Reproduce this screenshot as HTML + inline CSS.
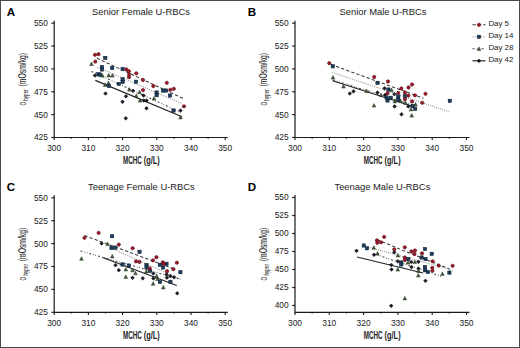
<!DOCTYPE html><html><head><meta charset="utf-8"><style>html,body{margin:0;padding:0;background:#fff}svg{display:block}text{font-family:"Liberation Sans", sans-serif}</style></head><body>
<svg width="520" height="348" viewBox="0 0 520 348">
<rect x="0" y="0" width="520" height="348" fill="#fff"/>
<rect x="0.5" y="0.5" width="519" height="347" fill="none" stroke="#4a4a4a" stroke-width="1"/>
<path d="M54.20 20.80V137.50H227.80" fill="none" stroke="#1a1a1a" stroke-width="1.2"/>
<path d="M51.40 137.45H54.2" stroke="#1a1a1a" stroke-width="1.2"/>
<text x="47.90" y="140.35" font-size="8.4" text-anchor="end" fill="#222">425</text>
<path d="M51.40 114.60H54.2" stroke="#1a1a1a" stroke-width="1.2"/>
<text x="47.90" y="117.50" font-size="8.4" text-anchor="end" fill="#222">450</text>
<path d="M51.40 91.75H54.2" stroke="#1a1a1a" stroke-width="1.2"/>
<text x="47.90" y="94.65" font-size="8.4" text-anchor="end" fill="#222">475</text>
<path d="M51.40 68.90H54.2" stroke="#1a1a1a" stroke-width="1.2"/>
<text x="47.90" y="71.80" font-size="8.4" text-anchor="end" fill="#222">500</text>
<path d="M51.40 46.05H54.2" stroke="#1a1a1a" stroke-width="1.2"/>
<text x="47.90" y="48.95" font-size="8.4" text-anchor="end" fill="#222">525</text>
<path d="M51.40 23.20H54.2" stroke="#1a1a1a" stroke-width="1.2"/>
<text x="47.90" y="26.10" font-size="8.4" text-anchor="end" fill="#222">550</text>
<path d="M54.20 137.50V140.10" stroke="#1a1a1a" stroke-width="1.1"/>
<text x="54.20" y="151.00" font-size="8.4" text-anchor="middle" fill="#222">300</text>
<path d="M71.30 137.50V138.70" stroke="#1a1a1a" stroke-width="1.1"/>
<path d="M88.40 137.50V140.10" stroke="#1a1a1a" stroke-width="1.1"/>
<text x="88.40" y="151.00" font-size="8.4" text-anchor="middle" fill="#222">310</text>
<path d="M105.50 137.50V138.70" stroke="#1a1a1a" stroke-width="1.1"/>
<path d="M122.60 137.50V140.10" stroke="#1a1a1a" stroke-width="1.1"/>
<text x="122.60" y="151.00" font-size="8.4" text-anchor="middle" fill="#222">320</text>
<path d="M139.70 137.50V138.70" stroke="#1a1a1a" stroke-width="1.1"/>
<path d="M156.80 137.50V140.10" stroke="#1a1a1a" stroke-width="1.1"/>
<text x="156.80" y="151.00" font-size="8.4" text-anchor="middle" fill="#222">330</text>
<path d="M173.90 137.50V138.70" stroke="#1a1a1a" stroke-width="1.1"/>
<path d="M191.00 137.50V140.10" stroke="#1a1a1a" stroke-width="1.1"/>
<text x="191.00" y="151.00" font-size="8.4" text-anchor="middle" fill="#222">340</text>
<path d="M208.10 137.50V138.70" stroke="#1a1a1a" stroke-width="1.1"/>
<path d="M225.20 137.50V140.10" stroke="#1a1a1a" stroke-width="1.1"/>
<text x="225.20" y="151.00" font-size="8.4" text-anchor="middle" fill="#222">350</text>
<text x="141.00" y="14.70" font-size="9.4" text-anchor="middle" fill="#222">Senior Female U-RBCs</text>
<text x="6.80" y="16.45" font-size="11.6" font-weight="bold" fill="#000">A</text>
<g transform="translate(122.90,163.70) scale(0.63,1)"><text x="0" y="0" font-size="10" fill="#222" font-weight="bold">MCHC</text></g>
<g transform="translate(143.80,163.70) scale(0.74,1)"><text x="0" y="0" font-size="10" fill="#222" font-weight="bold">(g/L)</text></g>
<g transform="translate(26.20,105.60) rotate(-90) scale(0.47,1)"><text x="0" y="0" font-size="9.8" fill="#111">O</text></g>
<g transform="translate(27.90,100.80) rotate(-90) scale(0.71,1)"><text x="0" y="0" font-size="6.5" fill="#111">hyper</text></g>
<g transform="translate(26.40,86.40) rotate(-90) scale(0.678,1)"><text x="0" y="0" font-size="10" fill="#111">(mOsm/kg)</text></g>
<path d="M295.00 20.80V137.50H469.50" fill="none" stroke="#1a1a1a" stroke-width="1.2"/>
<path d="M292.20 137.45H295.0" stroke="#1a1a1a" stroke-width="1.2"/>
<text x="288.70" y="140.35" font-size="8.4" text-anchor="end" fill="#222">425</text>
<path d="M292.20 114.60H295.0" stroke="#1a1a1a" stroke-width="1.2"/>
<text x="288.70" y="117.50" font-size="8.4" text-anchor="end" fill="#222">450</text>
<path d="M292.20 91.75H295.0" stroke="#1a1a1a" stroke-width="1.2"/>
<text x="288.70" y="94.65" font-size="8.4" text-anchor="end" fill="#222">475</text>
<path d="M292.20 68.90H295.0" stroke="#1a1a1a" stroke-width="1.2"/>
<text x="288.70" y="71.80" font-size="8.4" text-anchor="end" fill="#222">500</text>
<path d="M292.20 46.05H295.0" stroke="#1a1a1a" stroke-width="1.2"/>
<text x="288.70" y="48.95" font-size="8.4" text-anchor="end" fill="#222">525</text>
<path d="M292.20 23.20H295.0" stroke="#1a1a1a" stroke-width="1.2"/>
<text x="288.70" y="26.10" font-size="8.4" text-anchor="end" fill="#222">550</text>
<path d="M295.00 137.50V140.10" stroke="#1a1a1a" stroke-width="1.1"/>
<text x="295.00" y="151.00" font-size="8.4" text-anchor="middle" fill="#222">300</text>
<path d="M312.15 137.50V138.70" stroke="#1a1a1a" stroke-width="1.1"/>
<path d="M329.30 137.50V140.10" stroke="#1a1a1a" stroke-width="1.1"/>
<text x="329.30" y="151.00" font-size="8.4" text-anchor="middle" fill="#222">310</text>
<path d="M346.45 137.50V138.70" stroke="#1a1a1a" stroke-width="1.1"/>
<path d="M363.60 137.50V140.10" stroke="#1a1a1a" stroke-width="1.1"/>
<text x="363.60" y="151.00" font-size="8.4" text-anchor="middle" fill="#222">320</text>
<path d="M380.75 137.50V138.70" stroke="#1a1a1a" stroke-width="1.1"/>
<path d="M397.90 137.50V140.10" stroke="#1a1a1a" stroke-width="1.1"/>
<text x="397.90" y="151.00" font-size="8.4" text-anchor="middle" fill="#222">330</text>
<path d="M415.05 137.50V138.70" stroke="#1a1a1a" stroke-width="1.1"/>
<path d="M432.20 137.50V140.10" stroke="#1a1a1a" stroke-width="1.1"/>
<text x="432.20" y="151.00" font-size="8.4" text-anchor="middle" fill="#222">340</text>
<path d="M449.35 137.50V138.70" stroke="#1a1a1a" stroke-width="1.1"/>
<path d="M466.50 137.50V140.10" stroke="#1a1a1a" stroke-width="1.1"/>
<text x="466.50" y="151.00" font-size="8.4" text-anchor="middle" fill="#222">350</text>
<text x="383.00" y="14.70" font-size="9.4" text-anchor="middle" fill="#222">Senior Male U-RBCs</text>
<text x="247.80" y="16.45" font-size="11.6" font-weight="bold" fill="#000">B</text>
<g transform="translate(363.70,163.70) scale(0.63,1)"><text x="0" y="0" font-size="10" fill="#222" font-weight="bold">MCHC</text></g>
<g transform="translate(384.60,163.70) scale(0.74,1)"><text x="0" y="0" font-size="10" fill="#222" font-weight="bold">(g/L)</text></g>
<g transform="translate(267.00,105.60) rotate(-90) scale(0.47,1)"><text x="0" y="0" font-size="9.8" fill="#111">O</text></g>
<g transform="translate(268.70,100.80) rotate(-90) scale(0.71,1)"><text x="0" y="0" font-size="6.5" fill="#111">hyper</text></g>
<g transform="translate(267.20,86.40) rotate(-90) scale(0.678,1)"><text x="0" y="0" font-size="10" fill="#111">(mOsm/kg)</text></g>
<path d="M54.20 195.30V312.30H227.80" fill="none" stroke="#1a1a1a" stroke-width="1.2"/>
<path d="M51.40 312.30H54.2" stroke="#1a1a1a" stroke-width="1.2"/>
<text x="47.90" y="315.20" font-size="8.4" text-anchor="end" fill="#222">425</text>
<path d="M51.40 289.40H54.2" stroke="#1a1a1a" stroke-width="1.2"/>
<text x="47.90" y="292.30" font-size="8.4" text-anchor="end" fill="#222">450</text>
<path d="M51.40 266.50H54.2" stroke="#1a1a1a" stroke-width="1.2"/>
<text x="47.90" y="269.40" font-size="8.4" text-anchor="end" fill="#222">475</text>
<path d="M51.40 243.60H54.2" stroke="#1a1a1a" stroke-width="1.2"/>
<text x="47.90" y="246.50" font-size="8.4" text-anchor="end" fill="#222">500</text>
<path d="M51.40 220.70H54.2" stroke="#1a1a1a" stroke-width="1.2"/>
<text x="47.90" y="223.60" font-size="8.4" text-anchor="end" fill="#222">525</text>
<path d="M51.40 197.80H54.2" stroke="#1a1a1a" stroke-width="1.2"/>
<text x="47.90" y="200.70" font-size="8.4" text-anchor="end" fill="#222">550</text>
<path d="M54.20 312.30V314.90" stroke="#1a1a1a" stroke-width="1.1"/>
<text x="54.20" y="326.00" font-size="8.4" text-anchor="middle" fill="#222">300</text>
<path d="M71.30 312.30V313.50" stroke="#1a1a1a" stroke-width="1.1"/>
<path d="M88.40 312.30V314.90" stroke="#1a1a1a" stroke-width="1.1"/>
<text x="88.40" y="326.00" font-size="8.4" text-anchor="middle" fill="#222">310</text>
<path d="M105.50 312.30V313.50" stroke="#1a1a1a" stroke-width="1.1"/>
<path d="M122.60 312.30V314.90" stroke="#1a1a1a" stroke-width="1.1"/>
<text x="122.60" y="326.00" font-size="8.4" text-anchor="middle" fill="#222">320</text>
<path d="M139.70 312.30V313.50" stroke="#1a1a1a" stroke-width="1.1"/>
<path d="M156.80 312.30V314.90" stroke="#1a1a1a" stroke-width="1.1"/>
<text x="156.80" y="326.00" font-size="8.4" text-anchor="middle" fill="#222">330</text>
<path d="M173.90 312.30V313.50" stroke="#1a1a1a" stroke-width="1.1"/>
<path d="M191.00 312.30V314.90" stroke="#1a1a1a" stroke-width="1.1"/>
<text x="191.00" y="326.00" font-size="8.4" text-anchor="middle" fill="#222">340</text>
<path d="M208.10 312.30V313.50" stroke="#1a1a1a" stroke-width="1.1"/>
<path d="M225.20 312.30V314.90" stroke="#1a1a1a" stroke-width="1.1"/>
<text x="225.20" y="326.00" font-size="8.4" text-anchor="middle" fill="#222">350</text>
<text x="141.40" y="189.90" font-size="9.4" text-anchor="middle" fill="#222">Teenage Female U-RBCs</text>
<text x="6.80" y="190.85" font-size="11.6" font-weight="bold" fill="#000">C</text>
<g transform="translate(122.90,338.50) scale(0.63,1)"><text x="0" y="0" font-size="10" fill="#222" font-weight="bold">MCHC</text></g>
<g transform="translate(143.80,338.50) scale(0.74,1)"><text x="0" y="0" font-size="10" fill="#222" font-weight="bold">(g/L)</text></g>
<g transform="translate(26.20,280.40) rotate(-90) scale(0.47,1)"><text x="0" y="0" font-size="9.8" fill="#111">O</text></g>
<g transform="translate(27.90,275.60) rotate(-90) scale(0.71,1)"><text x="0" y="0" font-size="6.5" fill="#111">hyper</text></g>
<g transform="translate(26.40,261.20) rotate(-90) scale(0.678,1)"><text x="0" y="0" font-size="10" fill="#111">(mOsm/kg)</text></g>
<path d="M295.00 195.00V312.30H469.50" fill="none" stroke="#1a1a1a" stroke-width="1.2"/>
<path d="M292.20 305.50H295.0" stroke="#1a1a1a" stroke-width="1.2"/>
<text x="288.70" y="308.40" font-size="8.4" text-anchor="end" fill="#222">400</text>
<path d="M292.20 287.50H295.0" stroke="#1a1a1a" stroke-width="1.2"/>
<text x="288.70" y="290.40" font-size="8.4" text-anchor="end" fill="#222">425</text>
<path d="M292.20 269.50H295.0" stroke="#1a1a1a" stroke-width="1.2"/>
<text x="288.70" y="272.40" font-size="8.4" text-anchor="end" fill="#222">450</text>
<path d="M292.20 251.50H295.0" stroke="#1a1a1a" stroke-width="1.2"/>
<text x="288.70" y="254.40" font-size="8.4" text-anchor="end" fill="#222">475</text>
<path d="M292.20 233.50H295.0" stroke="#1a1a1a" stroke-width="1.2"/>
<text x="288.70" y="236.40" font-size="8.4" text-anchor="end" fill="#222">500</text>
<path d="M292.20 215.50H295.0" stroke="#1a1a1a" stroke-width="1.2"/>
<text x="288.70" y="218.40" font-size="8.4" text-anchor="end" fill="#222">525</text>
<path d="M292.20 197.50H295.0" stroke="#1a1a1a" stroke-width="1.2"/>
<text x="288.70" y="200.40" font-size="8.4" text-anchor="end" fill="#222">550</text>
<path d="M295.00 312.30V314.90" stroke="#1a1a1a" stroke-width="1.1"/>
<text x="295.00" y="326.00" font-size="8.4" text-anchor="middle" fill="#222">300</text>
<path d="M312.15 312.30V313.50" stroke="#1a1a1a" stroke-width="1.1"/>
<path d="M329.30 312.30V314.90" stroke="#1a1a1a" stroke-width="1.1"/>
<text x="329.30" y="326.00" font-size="8.4" text-anchor="middle" fill="#222">310</text>
<path d="M346.45 312.30V313.50" stroke="#1a1a1a" stroke-width="1.1"/>
<path d="M363.60 312.30V314.90" stroke="#1a1a1a" stroke-width="1.1"/>
<text x="363.60" y="326.00" font-size="8.4" text-anchor="middle" fill="#222">320</text>
<path d="M380.75 312.30V313.50" stroke="#1a1a1a" stroke-width="1.1"/>
<path d="M397.90 312.30V314.90" stroke="#1a1a1a" stroke-width="1.1"/>
<text x="397.90" y="326.00" font-size="8.4" text-anchor="middle" fill="#222">330</text>
<path d="M415.05 312.30V313.50" stroke="#1a1a1a" stroke-width="1.1"/>
<path d="M432.20 312.30V314.90" stroke="#1a1a1a" stroke-width="1.1"/>
<text x="432.20" y="326.00" font-size="8.4" text-anchor="middle" fill="#222">340</text>
<path d="M449.35 312.30V313.50" stroke="#1a1a1a" stroke-width="1.1"/>
<path d="M466.50 312.30V314.90" stroke="#1a1a1a" stroke-width="1.1"/>
<text x="466.50" y="326.00" font-size="8.4" text-anchor="middle" fill="#222">350</text>
<text x="382.40" y="189.90" font-size="9.4" text-anchor="middle" fill="#222">Teenage Male U-RBCs</text>
<text x="247.80" y="190.85" font-size="11.6" font-weight="bold" fill="#000">D</text>
<g transform="translate(363.70,338.50) scale(0.63,1)"><text x="0" y="0" font-size="10" fill="#222" font-weight="bold">MCHC</text></g>
<g transform="translate(384.60,338.50) scale(0.74,1)"><text x="0" y="0" font-size="10" fill="#222" font-weight="bold">(g/L)</text></g>
<g transform="translate(267.00,280.40) rotate(-90) scale(0.47,1)"><text x="0" y="0" font-size="9.8" fill="#111">O</text></g>
<g transform="translate(268.70,275.60) rotate(-90) scale(0.71,1)"><text x="0" y="0" font-size="6.5" fill="#111">hyper</text></g>
<g transform="translate(267.20,261.20) rotate(-90) scale(0.678,1)"><text x="0" y="0" font-size="10" fill="#111">(mOsm/kg)</text></g>
<text x="488.4" y="25.90" font-size="7.9" fill="#222">Day 5</text>
<text x="488.4" y="37.90" font-size="7.9" fill="#222">Day 14</text>
<text x="488.4" y="49.90" font-size="7.9" fill="#222">Day 28</text>
<text x="488.4" y="61.90" font-size="7.9" fill="#222">Day 42</text>
<path d="M96.80 58.10L183.10 98.40" stroke="#3a3a3a" stroke-width="1.05" stroke-dasharray="3.3 2.1" fill="none"/>
<path d="M97.00 67.00L182.00 103.60" stroke="#7c7c7c" stroke-width="1.0" stroke-dasharray="0.9 1.2" fill="none"/>
<path d="M91.50 71.40L181.00 112.50" stroke="#444" stroke-width="1.05" stroke-dasharray="2 2 0.8 1.5 0.8 2" fill="none"/>
<path d="M95.30 80.40L182.00 116.70" stroke="#222" stroke-width="1.15" fill="none"/>
<path d="M94.90 73.65L96.75 75.50L94.90 77.35L93.05 75.50Z" fill="#1a1726" stroke="#0a0910" stroke-width="0.5"/>
<path d="M105.50 91.65L107.35 93.50L105.50 95.35L103.65 93.50Z" fill="#1a1726" stroke="#0a0910" stroke-width="0.5"/>
<path d="M126.00 94.45L127.85 96.30L126.00 98.15L124.15 96.30Z" fill="#1a1726" stroke="#0a0910" stroke-width="0.5"/>
<path d="M122.50 99.95L124.35 101.80L122.50 103.65L120.65 101.80Z" fill="#1a1726" stroke="#0a0910" stroke-width="0.5"/>
<path d="M125.80 116.45L127.65 118.30L125.80 120.15L123.95 118.30Z" fill="#1a1726" stroke="#0a0910" stroke-width="0.5"/>
<path d="M133.00 88.95L134.85 90.80L133.00 92.65L131.15 90.80Z" fill="#1a1726" stroke="#0a0910" stroke-width="0.5"/>
<path d="M143.50 93.65L145.35 95.50L143.50 97.35L141.65 95.50Z" fill="#1a1726" stroke="#0a0910" stroke-width="0.5"/>
<path d="M143.80 98.65L145.65 100.50L143.80 102.35L141.95 100.50Z" fill="#1a1726" stroke="#0a0910" stroke-width="0.5"/>
<path d="M146.60 98.65L148.45 100.50L146.60 102.35L144.75 100.50Z" fill="#1a1726" stroke="#0a0910" stroke-width="0.5"/>
<path d="M146.50 106.45L148.35 108.30L146.50 110.15L144.65 108.30Z" fill="#1a1726" stroke="#0a0910" stroke-width="0.5"/>
<path d="M180.50 108.65L182.35 110.50L180.50 112.35L178.65 110.50Z" fill="#1a1726" stroke="#0a0910" stroke-width="0.5"/>
<path d="M91.50 62.10L93.31 65.61L89.69 65.61Z" fill="#46603f" stroke="#22331f" stroke-width="0.5"/>
<path d="M102.30 73.60L104.11 77.11L100.49 77.11Z" fill="#46603f" stroke="#22331f" stroke-width="0.5"/>
<path d="M108.70 73.40L110.51 76.91L106.89 76.91Z" fill="#46603f" stroke="#22331f" stroke-width="0.5"/>
<path d="M112.40 73.60L114.21 77.11L110.59 77.11Z" fill="#46603f" stroke="#22331f" stroke-width="0.5"/>
<path d="M105.20 82.90L107.01 86.41L103.39 86.41Z" fill="#46603f" stroke="#22331f" stroke-width="0.5"/>
<path d="M108.50 81.10L110.31 84.61L106.69 84.61Z" fill="#46603f" stroke="#22331f" stroke-width="0.5"/>
<path d="M129.30 87.60L131.11 91.11L127.50 91.11Z" fill="#46603f" stroke="#22331f" stroke-width="0.5"/>
<path d="M139.50 90.30L141.31 93.81L137.69 93.81Z" fill="#46603f" stroke="#22331f" stroke-width="0.5"/>
<path d="M136.30 93.90L138.11 97.41L134.50 97.41Z" fill="#46603f" stroke="#22331f" stroke-width="0.5"/>
<path d="M140.00 98.60L141.81 102.11L138.19 102.11Z" fill="#46603f" stroke="#22331f" stroke-width="0.5"/>
<path d="M154.00 96.60L155.81 100.11L152.19 100.11Z" fill="#46603f" stroke="#22331f" stroke-width="0.5"/>
<path d="M180.50 115.40L182.31 118.91L178.69 118.91Z" fill="#46603f" stroke="#22331f" stroke-width="0.5"/>
<rect x="103.65" y="56.25" width="3.30" height="3.30" fill="#1c3d5c" stroke="#0b1a2c" stroke-width="0.5"/>
<rect x="100.35" y="65.35" width="3.30" height="3.30" fill="#1c3d5c" stroke="#0b1a2c" stroke-width="0.5"/>
<rect x="100.35" y="67.85" width="3.30" height="3.30" fill="#1c3d5c" stroke="#0b1a2c" stroke-width="0.5"/>
<rect x="110.55" y="66.35" width="3.30" height="3.30" fill="#1c3d5c" stroke="#0b1a2c" stroke-width="0.5"/>
<rect x="120.95" y="67.35" width="3.30" height="3.30" fill="#1c3d5c" stroke="#0b1a2c" stroke-width="0.5"/>
<rect x="96.65" y="72.65" width="3.30" height="3.30" fill="#1c3d5c" stroke="#0b1a2c" stroke-width="0.5"/>
<rect x="98.25" y="72.95" width="3.30" height="3.30" fill="#1c3d5c" stroke="#0b1a2c" stroke-width="0.5"/>
<rect x="120.95" y="77.65" width="3.30" height="3.30" fill="#1c3d5c" stroke="#0b1a2c" stroke-width="0.5"/>
<rect x="120.95" y="80.35" width="3.30" height="3.30" fill="#1c3d5c" stroke="#0b1a2c" stroke-width="0.5"/>
<rect x="117.05" y="82.25" width="3.30" height="3.30" fill="#1c3d5c" stroke="#0b1a2c" stroke-width="0.5"/>
<rect x="107.35" y="84.35" width="3.30" height="3.30" fill="#1c3d5c" stroke="#0b1a2c" stroke-width="0.5"/>
<rect x="134.35" y="80.05" width="3.30" height="3.30" fill="#1c3d5c" stroke="#0b1a2c" stroke-width="0.5"/>
<rect x="154.95" y="90.85" width="3.30" height="3.30" fill="#1c3d5c" stroke="#0b1a2c" stroke-width="0.5"/>
<rect x="154.95" y="93.55" width="3.30" height="3.30" fill="#1c3d5c" stroke="#0b1a2c" stroke-width="0.5"/>
<rect x="161.35" y="88.95" width="3.30" height="3.30" fill="#1c3d5c" stroke="#0b1a2c" stroke-width="0.5"/>
<rect x="164.35" y="88.85" width="3.30" height="3.30" fill="#1c3d5c" stroke="#0b1a2c" stroke-width="0.5"/>
<rect x="168.35" y="93.85" width="3.30" height="3.30" fill="#1c3d5c" stroke="#0b1a2c" stroke-width="0.5"/>
<rect x="171.85" y="108.85" width="3.30" height="3.30" fill="#1c3d5c" stroke="#0b1a2c" stroke-width="0.5"/>
<circle cx="95.00" cy="54.80" r="1.65" fill="#a3192b" stroke="#520912" stroke-width="0.6"/>
<circle cx="98.50" cy="54.20" r="1.65" fill="#a3192b" stroke="#520912" stroke-width="0.6"/>
<circle cx="95.30" cy="61.60" r="1.65" fill="#a3192b" stroke="#520912" stroke-width="0.6"/>
<circle cx="126.30" cy="69.40" r="1.65" fill="#a3192b" stroke="#520912" stroke-width="0.6"/>
<circle cx="128.90" cy="71.20" r="1.65" fill="#a3192b" stroke="#520912" stroke-width="0.6"/>
<circle cx="129.10" cy="74.50" r="1.65" fill="#a3192b" stroke="#520912" stroke-width="0.6"/>
<circle cx="129.00" cy="77.20" r="1.65" fill="#a3192b" stroke="#520912" stroke-width="0.6"/>
<circle cx="136.30" cy="73.30" r="1.65" fill="#a3192b" stroke="#520912" stroke-width="0.6"/>
<circle cx="143.00" cy="80.00" r="1.65" fill="#a3192b" stroke="#520912" stroke-width="0.6"/>
<circle cx="143.00" cy="90.10" r="1.65" fill="#a3192b" stroke="#520912" stroke-width="0.6"/>
<circle cx="153.30" cy="86.00" r="1.65" fill="#a3192b" stroke="#520912" stroke-width="0.6"/>
<circle cx="166.80" cy="82.80" r="1.65" fill="#a3192b" stroke="#520912" stroke-width="0.6"/>
<circle cx="170.30" cy="89.80" r="1.65" fill="#a3192b" stroke="#520912" stroke-width="0.6"/>
<circle cx="173.80" cy="88.80" r="1.65" fill="#a3192b" stroke="#520912" stroke-width="0.6"/>
<circle cx="184.00" cy="106.30" r="1.65" fill="#a3192b" stroke="#520912" stroke-width="0.6"/>
<path d="M331.00 64.50L423.50 98.20" stroke="#3a3a3a" stroke-width="1.05" stroke-dasharray="3.3 2.1" fill="none"/>
<path d="M332.50 72.50L448.50 111.60" stroke="#7c7c7c" stroke-width="1.0" stroke-dasharray="0.9 1.2" fill="none"/>
<path d="M333.00 80.00L415.50 105.80" stroke="#444" stroke-width="1.05" stroke-dasharray="2 2 0.8 1.5 0.8 2" fill="none"/>
<path d="M332.50 80.70L413.00 106.50" stroke="#222" stroke-width="1.15" fill="none"/>
<path d="M349.80 91.65L351.65 93.50L349.80 95.35L347.95 93.50Z" fill="#1a1726" stroke="#0a0910" stroke-width="0.5"/>
<path d="M353.50 89.45L355.35 91.30L353.50 93.15L351.65 91.30Z" fill="#1a1726" stroke="#0a0910" stroke-width="0.5"/>
<path d="M377.50 90.65L379.35 92.50L377.50 94.35L375.65 92.50Z" fill="#1a1726" stroke="#0a0910" stroke-width="0.5"/>
<path d="M384.50 86.45L386.35 88.30L384.50 90.15L382.65 88.30Z" fill="#1a1726" stroke="#0a0910" stroke-width="0.5"/>
<path d="M385.00 93.15L386.85 95.00L385.00 96.85L383.15 95.00Z" fill="#1a1726" stroke="#0a0910" stroke-width="0.5"/>
<path d="M394.40 92.35L396.25 94.20L394.40 96.05L392.55 94.20Z" fill="#1a1726" stroke="#0a0910" stroke-width="0.5"/>
<path d="M394.60 104.55L396.45 106.40L394.60 108.25L392.75 106.40Z" fill="#1a1726" stroke="#0a0910" stroke-width="0.5"/>
<path d="M408.30 104.55L410.15 106.40L408.30 108.25L406.45 106.40Z" fill="#1a1726" stroke="#0a0910" stroke-width="0.5"/>
<path d="M401.50 112.45L403.35 114.30L401.50 116.15L399.65 114.30Z" fill="#1a1726" stroke="#0a0910" stroke-width="0.5"/>
<path d="M333.00 75.60L334.81 79.11L331.19 79.11Z" fill="#46603f" stroke="#22331f" stroke-width="0.5"/>
<path d="M343.50 84.50L345.31 88.02L341.69 88.02Z" fill="#46603f" stroke="#22331f" stroke-width="0.5"/>
<path d="M366.50 89.10L368.31 92.61L364.69 92.61Z" fill="#46603f" stroke="#22331f" stroke-width="0.5"/>
<path d="M374.00 103.60L375.81 107.11L372.19 107.11Z" fill="#46603f" stroke="#22331f" stroke-width="0.5"/>
<path d="M381.00 93.10L382.81 96.61L379.19 96.61Z" fill="#46603f" stroke="#22331f" stroke-width="0.5"/>
<path d="M394.80 99.40L396.61 102.91L393.00 102.91Z" fill="#46603f" stroke="#22331f" stroke-width="0.5"/>
<path d="M400.50 99.10L402.31 102.61L398.69 102.61Z" fill="#46603f" stroke="#22331f" stroke-width="0.5"/>
<path d="M405.40 100.90L407.20 104.41L403.59 104.41Z" fill="#46603f" stroke="#22331f" stroke-width="0.5"/>
<path d="M415.50 102.50L417.31 106.02L413.69 106.02Z" fill="#46603f" stroke="#22331f" stroke-width="0.5"/>
<path d="M411.00 107.40L412.81 110.91L409.19 110.91Z" fill="#46603f" stroke="#22331f" stroke-width="0.5"/>
<path d="M411.70 113.60L413.50 117.11L409.89 117.11Z" fill="#46603f" stroke="#22331f" stroke-width="0.5"/>
<path d="M391.50 88.10L393.31 91.61L389.69 91.61Z" fill="#46603f" stroke="#22331f" stroke-width="0.5"/>
<rect x="331.15" y="64.65" width="3.30" height="3.30" fill="#1c3d5c" stroke="#0b1a2c" stroke-width="0.5"/>
<rect x="375.85" y="81.35" width="3.30" height="3.30" fill="#1c3d5c" stroke="#0b1a2c" stroke-width="0.5"/>
<rect x="386.75" y="87.85" width="3.30" height="3.30" fill="#1c3d5c" stroke="#0b1a2c" stroke-width="0.5"/>
<rect x="384.95" y="95.85" width="3.30" height="3.30" fill="#1c3d5c" stroke="#0b1a2c" stroke-width="0.5"/>
<rect x="389.15" y="96.15" width="3.30" height="3.30" fill="#1c3d5c" stroke="#0b1a2c" stroke-width="0.5"/>
<rect x="385.85" y="98.85" width="3.30" height="3.30" fill="#1c3d5c" stroke="#0b1a2c" stroke-width="0.5"/>
<rect x="396.65" y="94.85" width="3.30" height="3.30" fill="#1c3d5c" stroke="#0b1a2c" stroke-width="0.5"/>
<rect x="396.65" y="97.85" width="3.30" height="3.30" fill="#1c3d5c" stroke="#0b1a2c" stroke-width="0.5"/>
<rect x="403.35" y="94.35" width="3.30" height="3.30" fill="#1c3d5c" stroke="#0b1a2c" stroke-width="0.5"/>
<rect x="410.95" y="104.55" width="3.30" height="3.30" fill="#1c3d5c" stroke="#0b1a2c" stroke-width="0.5"/>
<rect x="413.55" y="107.15" width="3.30" height="3.30" fill="#1c3d5c" stroke="#0b1a2c" stroke-width="0.5"/>
<rect x="448.15" y="99.15" width="3.30" height="3.30" fill="#1c3d5c" stroke="#0b1a2c" stroke-width="0.5"/>
<circle cx="329.30" cy="63.20" r="1.65" fill="#a3192b" stroke="#520912" stroke-width="0.6"/>
<circle cx="374.20" cy="77.00" r="1.65" fill="#a3192b" stroke="#520912" stroke-width="0.6"/>
<circle cx="388.00" cy="81.50" r="1.65" fill="#a3192b" stroke="#520912" stroke-width="0.6"/>
<circle cx="412.00" cy="84.50" r="1.65" fill="#a3192b" stroke="#520912" stroke-width="0.6"/>
<circle cx="401.30" cy="88.50" r="1.65" fill="#a3192b" stroke="#520912" stroke-width="0.6"/>
<circle cx="408.50" cy="87.50" r="1.65" fill="#a3192b" stroke="#520912" stroke-width="0.6"/>
<circle cx="387.50" cy="93.30" r="1.65" fill="#a3192b" stroke="#520912" stroke-width="0.6"/>
<circle cx="398.30" cy="92.80" r="1.65" fill="#a3192b" stroke="#520912" stroke-width="0.6"/>
<circle cx="405.00" cy="92.50" r="1.65" fill="#a3192b" stroke="#520912" stroke-width="0.6"/>
<circle cx="408.40" cy="95.60" r="1.65" fill="#a3192b" stroke="#520912" stroke-width="0.6"/>
<circle cx="415.00" cy="95.30" r="1.65" fill="#a3192b" stroke="#520912" stroke-width="0.6"/>
<circle cx="405.00" cy="99.20" r="1.65" fill="#a3192b" stroke="#520912" stroke-width="0.6"/>
<circle cx="412.00" cy="101.50" r="1.65" fill="#a3192b" stroke="#520912" stroke-width="0.6"/>
<circle cx="422.20" cy="102.80" r="1.65" fill="#a3192b" stroke="#520912" stroke-width="0.6"/>
<circle cx="425.50" cy="93.80" r="1.65" fill="#a3192b" stroke="#520912" stroke-width="0.6"/>
<path d="M84.50 235.50L173.00 268.50" stroke="#3a3a3a" stroke-width="1.05" stroke-dasharray="3.3 2.1" fill="none"/>
<path d="M111.50 248.20L181.00 279.50" stroke="#7c7c7c" stroke-width="1.0" stroke-dasharray="0.9 1.2" fill="none"/>
<path d="M80.50 251.00L180.50 279.30" stroke="#444" stroke-width="1.05" stroke-dasharray="2 2 0.8 1.5 0.8 2" fill="none"/>
<path d="M102.50 257.50L176.80 285.50" stroke="#222" stroke-width="1.15" fill="none"/>
<path d="M101.60 241.65L103.45 243.50L101.60 245.35L99.75 243.50Z" fill="#1a1726" stroke="#0a0910" stroke-width="0.5"/>
<path d="M115.50 263.35L117.35 265.20L115.50 267.05L113.65 265.20Z" fill="#1a1726" stroke="#0a0910" stroke-width="0.5"/>
<path d="M118.80 268.35L120.65 270.20L118.80 272.05L116.95 270.20Z" fill="#1a1726" stroke="#0a0910" stroke-width="0.5"/>
<path d="M132.50 275.95L134.35 277.80L132.50 279.65L130.65 277.80Z" fill="#1a1726" stroke="#0a0910" stroke-width="0.5"/>
<path d="M142.80 276.45L144.65 278.30L142.80 280.15L140.95 278.30Z" fill="#1a1726" stroke="#0a0910" stroke-width="0.5"/>
<path d="M153.30 271.65L155.15 273.50L153.30 275.35L151.45 273.50Z" fill="#1a1726" stroke="#0a0910" stroke-width="0.5"/>
<path d="M153.40 276.65L155.25 278.50L153.40 280.35L151.55 278.50Z" fill="#1a1726" stroke="#0a0910" stroke-width="0.5"/>
<path d="M166.60 272.65L168.45 274.50L166.60 276.35L164.75 274.50Z" fill="#1a1726" stroke="#0a0910" stroke-width="0.5"/>
<path d="M166.90 275.85L168.75 277.70L166.90 279.55L165.05 277.70Z" fill="#1a1726" stroke="#0a0910" stroke-width="0.5"/>
<path d="M170.50 274.35L172.35 276.20L170.50 278.05L168.65 276.20Z" fill="#1a1726" stroke="#0a0910" stroke-width="0.5"/>
<path d="M174.10 275.45L175.95 277.30L174.10 279.15L172.25 277.30Z" fill="#1a1726" stroke="#0a0910" stroke-width="0.5"/>
<path d="M177.20 291.45L179.05 293.30L177.20 295.15L175.35 293.30Z" fill="#1a1726" stroke="#0a0910" stroke-width="0.5"/>
<path d="M81.50 256.70L83.31 260.22L79.69 260.22Z" fill="#46603f" stroke="#22331f" stroke-width="0.5"/>
<path d="M107.60 242.10L109.41 245.62L105.79 245.62Z" fill="#46603f" stroke="#22331f" stroke-width="0.5"/>
<path d="M112.30 254.40L114.11 257.92L110.49 257.92Z" fill="#46603f" stroke="#22331f" stroke-width="0.5"/>
<path d="M125.80 267.40L127.61 270.92L123.99 270.92Z" fill="#46603f" stroke="#22331f" stroke-width="0.5"/>
<path d="M125.80 274.90L127.61 278.42L123.99 278.42Z" fill="#46603f" stroke="#22331f" stroke-width="0.5"/>
<path d="M132.50 268.30L134.31 271.81L130.69 271.81Z" fill="#46603f" stroke="#22331f" stroke-width="0.5"/>
<path d="M135.50 271.30L137.31 274.81L133.69 274.81Z" fill="#46603f" stroke="#22331f" stroke-width="0.5"/>
<path d="M146.40 269.40L148.21 272.92L144.59 272.92Z" fill="#46603f" stroke="#22331f" stroke-width="0.5"/>
<path d="M156.60 274.10L158.41 277.62L154.79 277.62Z" fill="#46603f" stroke="#22331f" stroke-width="0.5"/>
<path d="M157.50 277.10L159.31 280.62L155.69 280.62Z" fill="#46603f" stroke="#22331f" stroke-width="0.5"/>
<path d="M153.10 281.80L154.91 285.31L151.29 285.31Z" fill="#46603f" stroke="#22331f" stroke-width="0.5"/>
<path d="M163.30 285.40L165.11 288.92L161.50 288.92Z" fill="#46603f" stroke="#22331f" stroke-width="0.5"/>
<rect x="110.45" y="234.55" width="3.30" height="3.30" fill="#1c3d5c" stroke="#0b1a2c" stroke-width="0.5"/>
<rect x="109.85" y="246.35" width="3.30" height="3.30" fill="#1c3d5c" stroke="#0b1a2c" stroke-width="0.5"/>
<rect x="113.65" y="245.95" width="3.30" height="3.30" fill="#1c3d5c" stroke="#0b1a2c" stroke-width="0.5"/>
<rect x="137.85" y="250.15" width="3.30" height="3.30" fill="#1c3d5c" stroke="#0b1a2c" stroke-width="0.5"/>
<rect x="120.85" y="262.85" width="3.30" height="3.30" fill="#1c3d5c" stroke="#0b1a2c" stroke-width="0.5"/>
<rect x="127.15" y="263.85" width="3.30" height="3.30" fill="#1c3d5c" stroke="#0b1a2c" stroke-width="0.5"/>
<rect x="144.85" y="263.35" width="3.30" height="3.30" fill="#1c3d5c" stroke="#0b1a2c" stroke-width="0.5"/>
<rect x="144.85" y="265.85" width="3.30" height="3.30" fill="#1c3d5c" stroke="#0b1a2c" stroke-width="0.5"/>
<rect x="148.35" y="269.35" width="3.30" height="3.30" fill="#1c3d5c" stroke="#0b1a2c" stroke-width="0.5"/>
<rect x="158.15" y="263.15" width="3.30" height="3.30" fill="#1c3d5c" stroke="#0b1a2c" stroke-width="0.5"/>
<rect x="164.85" y="262.15" width="3.30" height="3.30" fill="#1c3d5c" stroke="#0b1a2c" stroke-width="0.5"/>
<rect x="161.35" y="265.85" width="3.30" height="3.30" fill="#1c3d5c" stroke="#0b1a2c" stroke-width="0.5"/>
<rect x="158.35" y="280.35" width="3.30" height="3.30" fill="#1c3d5c" stroke="#0b1a2c" stroke-width="0.5"/>
<rect x="168.75" y="280.15" width="3.30" height="3.30" fill="#1c3d5c" stroke="#0b1a2c" stroke-width="0.5"/>
<rect x="178.75" y="270.55" width="3.30" height="3.30" fill="#1c3d5c" stroke="#0b1a2c" stroke-width="0.5"/>
<circle cx="84.50" cy="237.80" r="1.65" fill="#a3192b" stroke="#520912" stroke-width="0.6"/>
<circle cx="98.60" cy="232.90" r="1.65" fill="#a3192b" stroke="#520912" stroke-width="0.6"/>
<circle cx="118.80" cy="244.60" r="1.65" fill="#a3192b" stroke="#520912" stroke-width="0.6"/>
<circle cx="132.60" cy="248.20" r="1.65" fill="#a3192b" stroke="#520912" stroke-width="0.6"/>
<circle cx="136.00" cy="261.40" r="1.65" fill="#a3192b" stroke="#520912" stroke-width="0.6"/>
<circle cx="139.50" cy="261.90" r="1.65" fill="#a3192b" stroke="#520912" stroke-width="0.6"/>
<circle cx="153.00" cy="260.40" r="1.65" fill="#a3192b" stroke="#520912" stroke-width="0.6"/>
<circle cx="156.40" cy="257.20" r="1.65" fill="#a3192b" stroke="#520912" stroke-width="0.6"/>
<circle cx="149.80" cy="268.40" r="1.65" fill="#a3192b" stroke="#520912" stroke-width="0.6"/>
<circle cx="162.80" cy="262.30" r="1.65" fill="#a3192b" stroke="#520912" stroke-width="0.6"/>
<circle cx="163.80" cy="264.00" r="1.65" fill="#a3192b" stroke="#520912" stroke-width="0.6"/>
<circle cx="167.00" cy="271.20" r="1.65" fill="#a3192b" stroke="#520912" stroke-width="0.6"/>
<circle cx="173.40" cy="269.20" r="1.65" fill="#a3192b" stroke="#520912" stroke-width="0.6"/>
<circle cx="176.90" cy="262.70" r="1.65" fill="#a3192b" stroke="#520912" stroke-width="0.6"/>
<path d="M377.00 239.80L452.50 270.30" stroke="#3a3a3a" stroke-width="1.05" stroke-dasharray="3.3 2.1" fill="none"/>
<path d="M363.80 246.00L449.30 269.10" stroke="#7c7c7c" stroke-width="1.0" stroke-dasharray="0.9 1.2" fill="none"/>
<path d="M373.80 253.80L442.40 276.60" stroke="#444" stroke-width="1.05" stroke-dasharray="2 2 0.8 1.5 0.8 2" fill="none"/>
<path d="M357.00 257.00L423.00 273.00" stroke="#222" stroke-width="1.15" fill="none"/>
<path d="M356.50 248.95L358.35 250.80L356.50 252.65L354.65 250.80Z" fill="#1a1726" stroke="#0a0910" stroke-width="0.5"/>
<path d="M374.00 252.95L375.85 254.80L374.00 256.65L372.15 254.80Z" fill="#1a1726" stroke="#0a0910" stroke-width="0.5"/>
<path d="M394.30 250.45L396.15 252.30L394.30 254.15L392.45 252.30Z" fill="#1a1726" stroke="#0a0910" stroke-width="0.5"/>
<path d="M397.80 259.45L399.65 261.30L397.80 263.15L395.95 261.30Z" fill="#1a1726" stroke="#0a0910" stroke-width="0.5"/>
<path d="M411.30 260.15L413.15 262.00L411.30 263.85L409.45 262.00Z" fill="#1a1726" stroke="#0a0910" stroke-width="0.5"/>
<path d="M418.40 259.95L420.25 261.80L418.40 263.65L416.55 261.80Z" fill="#1a1726" stroke="#0a0910" stroke-width="0.5"/>
<path d="M391.30 263.15L393.15 265.00L391.30 266.85L389.45 265.00Z" fill="#1a1726" stroke="#0a0910" stroke-width="0.5"/>
<path d="M391.50 267.65L393.35 269.50L391.50 271.35L389.65 269.50Z" fill="#1a1726" stroke="#0a0910" stroke-width="0.5"/>
<path d="M411.50 265.25L413.35 267.10L411.50 268.95L409.65 267.10Z" fill="#1a1726" stroke="#0a0910" stroke-width="0.5"/>
<path d="M418.50 266.65L420.35 268.50L418.50 270.35L416.65 268.50Z" fill="#1a1726" stroke="#0a0910" stroke-width="0.5"/>
<path d="M425.50 278.95L427.35 280.80L425.50 282.65L423.65 280.80Z" fill="#1a1726" stroke="#0a0910" stroke-width="0.5"/>
<path d="M391.20 303.95L393.05 305.80L391.20 307.65L389.35 305.80Z" fill="#1a1726" stroke="#0a0910" stroke-width="0.5"/>
<path d="M373.80 245.70L375.61 249.22L372.00 249.22Z" fill="#46603f" stroke="#22331f" stroke-width="0.5"/>
<path d="M377.50 251.60L379.31 255.12L375.69 255.12Z" fill="#46603f" stroke="#22331f" stroke-width="0.5"/>
<path d="M398.00 253.40L399.81 256.92L396.19 256.92Z" fill="#46603f" stroke="#22331f" stroke-width="0.5"/>
<path d="M408.00 260.60L409.81 264.12L406.19 264.12Z" fill="#46603f" stroke="#22331f" stroke-width="0.5"/>
<path d="M414.80 260.10L416.61 263.62L413.00 263.62Z" fill="#46603f" stroke="#22331f" stroke-width="0.5"/>
<path d="M397.80 267.60L399.61 271.12L396.00 271.12Z" fill="#46603f" stroke="#22331f" stroke-width="0.5"/>
<path d="M418.50 268.90L420.31 272.42L416.69 272.42Z" fill="#46603f" stroke="#22331f" stroke-width="0.5"/>
<path d="M418.30 273.60L420.11 277.12L416.50 277.12Z" fill="#46603f" stroke="#22331f" stroke-width="0.5"/>
<path d="M442.40 271.90L444.20 275.42L440.59 275.42Z" fill="#46603f" stroke="#22331f" stroke-width="0.5"/>
<path d="M404.80 296.40L406.61 299.92L403.00 299.92Z" fill="#46603f" stroke="#22331f" stroke-width="0.5"/>
<rect x="362.15" y="243.85" width="3.30" height="3.30" fill="#1c3d5c" stroke="#0b1a2c" stroke-width="0.5"/>
<rect x="365.35" y="246.65" width="3.30" height="3.30" fill="#1c3d5c" stroke="#0b1a2c" stroke-width="0.5"/>
<rect x="399.65" y="260.85" width="3.30" height="3.30" fill="#1c3d5c" stroke="#0b1a2c" stroke-width="0.5"/>
<rect x="399.65" y="262.85" width="3.30" height="3.30" fill="#1c3d5c" stroke="#0b1a2c" stroke-width="0.5"/>
<rect x="406.65" y="257.35" width="3.30" height="3.30" fill="#1c3d5c" stroke="#0b1a2c" stroke-width="0.5"/>
<rect x="419.95" y="255.85" width="3.30" height="3.30" fill="#1c3d5c" stroke="#0b1a2c" stroke-width="0.5"/>
<rect x="423.35" y="247.35" width="3.30" height="3.30" fill="#1c3d5c" stroke="#0b1a2c" stroke-width="0.5"/>
<rect x="423.85" y="257.35" width="3.30" height="3.30" fill="#1c3d5c" stroke="#0b1a2c" stroke-width="0.5"/>
<rect x="430.05" y="252.15" width="3.30" height="3.30" fill="#1c3d5c" stroke="#0b1a2c" stroke-width="0.5"/>
<rect x="423.25" y="265.25" width="3.30" height="3.30" fill="#1c3d5c" stroke="#0b1a2c" stroke-width="0.5"/>
<rect x="423.55" y="268.65" width="3.30" height="3.30" fill="#1c3d5c" stroke="#0b1a2c" stroke-width="0.5"/>
<rect x="426.15" y="270.35" width="3.30" height="3.30" fill="#1c3d5c" stroke="#0b1a2c" stroke-width="0.5"/>
<rect x="447.75" y="270.95" width="3.30" height="3.30" fill="#1c3d5c" stroke="#0b1a2c" stroke-width="0.5"/>
<circle cx="384.20" cy="236.90" r="1.65" fill="#a3192b" stroke="#520912" stroke-width="0.6"/>
<circle cx="377.00" cy="240.30" r="1.65" fill="#a3192b" stroke="#520912" stroke-width="0.6"/>
<circle cx="377.30" cy="242.80" r="1.65" fill="#a3192b" stroke="#520912" stroke-width="0.6"/>
<circle cx="381.00" cy="242.30" r="1.65" fill="#a3192b" stroke="#520912" stroke-width="0.6"/>
<circle cx="394.30" cy="249.30" r="1.65" fill="#a3192b" stroke="#520912" stroke-width="0.6"/>
<circle cx="404.80" cy="247.30" r="1.65" fill="#a3192b" stroke="#520912" stroke-width="0.6"/>
<circle cx="411.50" cy="251.50" r="1.65" fill="#a3192b" stroke="#520912" stroke-width="0.6"/>
<circle cx="415.00" cy="250.50" r="1.65" fill="#a3192b" stroke="#520912" stroke-width="0.6"/>
<circle cx="414.50" cy="254.00" r="1.65" fill="#a3192b" stroke="#520912" stroke-width="0.6"/>
<circle cx="422.00" cy="253.30" r="1.65" fill="#a3192b" stroke="#520912" stroke-width="0.6"/>
<circle cx="404.80" cy="257.50" r="1.65" fill="#a3192b" stroke="#520912" stroke-width="0.6"/>
<circle cx="404.80" cy="260.00" r="1.65" fill="#a3192b" stroke="#520912" stroke-width="0.6"/>
<circle cx="432.60" cy="261.30" r="1.65" fill="#a3192b" stroke="#520912" stroke-width="0.6"/>
<circle cx="432.30" cy="267.80" r="1.65" fill="#a3192b" stroke="#520912" stroke-width="0.6"/>
<circle cx="432.40" cy="270.80" r="1.65" fill="#a3192b" stroke="#520912" stroke-width="0.6"/>
<circle cx="438.70" cy="265.60" r="1.65" fill="#a3192b" stroke="#520912" stroke-width="0.6"/>
<circle cx="452.60" cy="265.80" r="1.65" fill="#a3192b" stroke="#520912" stroke-width="0.6"/>
<path d="M472.5 24.80H485.5" stroke="#3a3a3a" stroke-width="1.05" stroke-dasharray="3.3 2.1"/>
<circle cx="479.00" cy="24.80" r="1.65" fill="#a3192b" stroke="#520912" stroke-width="0.6"/>
<path d="M472.5 36.80H485.5" stroke="#7c7c7c" stroke-width="1.0" stroke-dasharray="0.9 1.2"/>
<rect x="477.35" y="35.15" width="3.30" height="3.30" fill="#1c3d5c" stroke="#0b1a2c" stroke-width="0.5"/>
<path d="M472.5 48.80H485.5" stroke="#444" stroke-width="1.05" stroke-dasharray="2 2 0.8 1.5 0.8 2"/>
<path d="M479.00 46.90L480.81 50.41L477.19 50.41Z" fill="#46603f" stroke="#22331f" stroke-width="0.5"/>
<path d="M472.5 60.80H485.5" stroke="#222" stroke-width="1.15"/>
<path d="M479.00 58.95L480.85 60.80L479.00 62.65L477.15 60.80Z" fill="#1a1726" stroke="#0a0910" stroke-width="0.5"/>
</svg></body></html>
